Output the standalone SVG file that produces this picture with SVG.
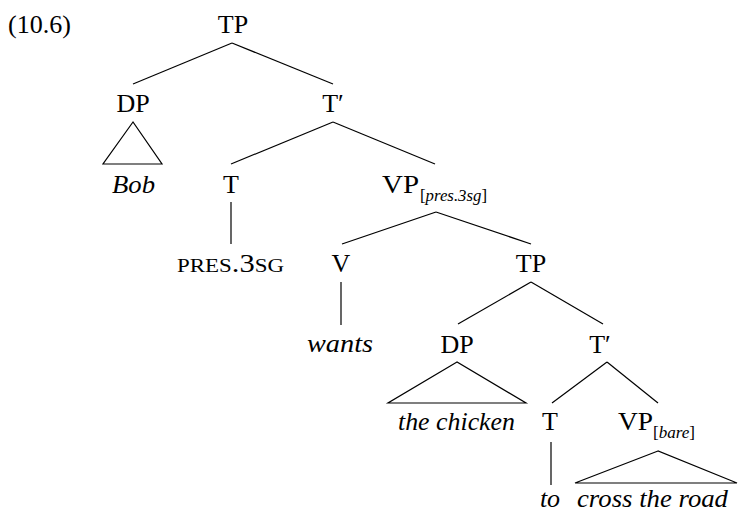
<svg xmlns="http://www.w3.org/2000/svg" width="738" height="512" viewBox="0 0 738 512">
<style>
text{font-family:"Liberation Serif","DejaVu Serif","Times New Roman",serif;font-size:26px;fill:#000}
.c{text-anchor:middle}
.i{font-style:italic}
.sub{font-size:17px}
.sc{font-size:19.5px}
line,polygon{stroke:#000;stroke-width:1.2;fill:none}
</style>
<rect width="738" height="512" fill="#fff"/>
<text x="8" y="33" textLength="63" lengthAdjust="spacingAndGlyphs">(10.6)</text>
<g id="connectors">
<line x1="232" y1="43" x2="133" y2="84"/>
<line x1="232" y1="43" x2="333" y2="84"/>
<polygon points="133,122 103,164 162,164"/>
<line x1="333" y1="122" x2="231" y2="164"/>
<line x1="333" y1="122" x2="435" y2="164"/>
<line x1="231" y1="202" x2="231" y2="244"/>
<line x1="436" y1="212" x2="342" y2="244"/>
<line x1="436" y1="212" x2="531" y2="244"/>
<line x1="341" y1="282" x2="341" y2="325"/>
<line x1="531" y1="282" x2="458" y2="324"/>
<line x1="531" y1="282" x2="603" y2="324"/>
<polygon points="457,362 388,403 526,403"/>
<line x1="607" y1="362" x2="552" y2="403"/>
<line x1="607" y1="362" x2="658" y2="403"/>
<line x1="551" y1="442" x2="551" y2="485"/>
<polygon points="658,451 575,483 737,483"/>
</g>
<g id="n-tp"><text class="c" x="233" y="33">TP</text></g>
<g id="n-dp1"><text class="c" x="133" y="112">DP</text></g>
<g id="n-tbar1"><text class="c" x="333" y="112">T′</text></g>
<g id="n-bob"><text class="i" x="112" y="193" textLength="43" lengthAdjust="spacingAndGlyphs">Bob</text></g>
<g id="n-t1"><text class="c" x="231" y="193">T</text></g>
<g id="n-vp1"><text x="382" y="193" textLength="37" lengthAdjust="spacingAndGlyphs">VP</text><text class="sub" x="420" y="201" textLength="67" lengthAdjust="spacingAndGlyphs">[<tspan class="i">pres.3sg</tspan>]</text></g>
<g id="n-pres"><text x="177" y="272" textLength="107" lengthAdjust="spacingAndGlyphs"><tspan class="sc">PRES</tspan>.3<tspan class="sc">SG</tspan></text></g>
<g id="n-v"><text class="c" x="341" y="272">V</text></g>
<g id="n-tp2"><text class="c" x="531" y="272">TP</text></g>
<g id="n-wants"><text class="i" x="307" y="352" textLength="66" lengthAdjust="spacingAndGlyphs">wants</text></g>
<g id="n-dp2"><text class="c" x="457" y="353">DP</text></g>
<g id="n-tbar2"><text class="c" x="600" y="353">T′</text></g>
<g id="n-chicken"><text class="i" x="398" y="430" textLength="117" lengthAdjust="spacingAndGlyphs">the chicken</text></g>
<g id="n-t2"><text class="c" x="550" y="430">T</text></g>
<g id="n-vp2"><text x="618" y="430" textLength="35" lengthAdjust="spacingAndGlyphs">VP</text><text class="sub" x="653" y="438" textLength="42" lengthAdjust="spacingAndGlyphs">[<tspan class="i">bare</tspan>]</text></g>
<g id="n-to"><text class="c i" x="550" y="507">to</text></g>
<g id="n-road"><text class="i" x="577" y="507" textLength="151" lengthAdjust="spacingAndGlyphs">cross the road</text></g>
</svg>
